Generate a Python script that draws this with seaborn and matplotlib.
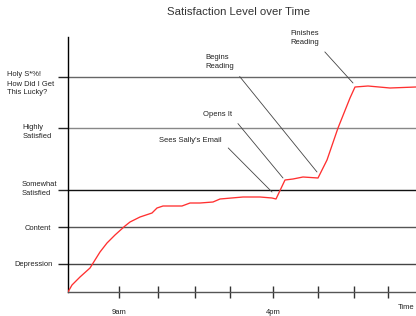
import matplotlib
matplotlib.use('Agg')
import matplotlib.pyplot as plt
import matplotlib.transforms as mtransforms
import seaborn as sns
import pandas as pd

# time (arbitrary units along the axis) and satisfaction score
time_pts = [0, 4, 12, 22, 32, 39, 47, 57, 62, 72, 84, 89, 95, 114, 122, 132, 145, 152,
            175, 192, 204, 208, 217, 225, 235, 250, 259, 270, 282, 287, 300, 322, 348]
satisfaction = [0, 7, 15, 24, 40, 49, 57, 66, 70, 75, 79, 84, 86, 86, 89, 89, 90, 93,
                95, 95, 94, 93, 112, 113, 115, 114, 132, 164, 194, 205, 206, 204, 205]

level_names = ['Depression', 'Content', 'Somewhat\nSatisfied', 'Highly\nSatisfied',
               'Holy S*%!\nHow Did I Get\nThis Lucky?']
level_values = [28, 65, 102, 164, 215]
level_colors = ['#444444', '#555555', '#111111', '#888888', '#666666']

tick_pos = [51, 90, 127, 162, 205, 250, 286, 320]
tick_labels = ['9am', '', '', '', '4pm', '', '', '']

events = ["Sees Sally's Email", 'Opens It', 'Begins\nReading', 'Finishes\nReading']
event_time = [204, 215, 249, 285]
event_level = [100, 114, 120, 209]
event_text_x = [154, 164, 137, 222]
event_text_y = [151, 177, 230, 254]

df = pd.DataFrame({'time': time_pts, 'satisfaction': satisfaction})

sns.set_style('white')
plt.rcParams['font.family'] = ['Liberation Sans', 'DejaVu Sans']

fig = plt.figure(figsize=(4.16, 3.16), dpi=100)
ax = fig.add_axes([68 / 416, 24 / 316, 348 / 416, 255 / 316])

for lv, c in zip(level_values, level_colors):
    ax.axhline(lv, color=c, lw=1, zorder=1)

sns.lineplot(data=df, x='time', y='satisfaction', ax=ax, color='#ff3030', lw=0.95, zorder=3)

ax.set_xlim(0, 348)
ax.set_ylim(0, 255)

ax.set_yticks(level_values)
ax.set_yticklabels(level_names, fontsize=5.4, linespacing=1.4, color='#222222')
ax.tick_params(axis='y', direction='out', length=7.2, width=1, pad=18.5, left=True)
# small nudges of the labels, in pixels (right, down)
nudge_x = [1, 6, 7, 5, -1.5]
nudge_y = [0, 0, -3, 2, 5]
for tk, c, dx, dy in zip(ax.yaxis.get_major_ticks(), level_colors, nudge_x, nudge_y):
    tk.tick1line.set_color(c)
    lab = tk.label1
    lab.set_ha('center')
    lab.set_multialignment('left')
    lab.set_transform(lab.get_transform() +
                      mtransforms.ScaledTranslation(dx / 100, -dy / 100, fig.dpi_scale_trans))

ax.set_xticks(tick_pos)
ax.set_xticklabels(tick_labels, fontsize=5.5, color='#222222')
ax.tick_params(axis='x', direction='inout', length=8, width=1, pad=8,
               bottom=True, color='#333333')

sns.despine(ax=ax, top=True, right=True)
ax.spines['left'].set_color('black')
ax.spines['left'].set_linewidth(1)
ax.spines['bottom'].set_color('#555555')
ax.spines['bottom'].set_linewidth(1)
ax.set_xlabel('')
ax.set_ylabel('')

ax.annotate('Time', xy=(1, 0), xycoords='axes fraction', xytext=(-1, -11),
            textcoords='offset points', ha='right', va='center', fontsize=5.5,
            color='#222222')

rel = [(1, 0.4), (1, 0.3), (1, 0.05), (1, 0.05)]
for name, tx, ty, px, py, rp in zip(events, event_time, event_level,
                                     event_text_x, event_text_y, rel):
    ax.annotate(name, xy=(tx, ty), xytext=(px, py), ha='left' if '\n' in name else 'right',
                va='center', fontsize=5.5, linespacing=1.4, color='#222222',
                annotation_clip=False,
                arrowprops=dict(arrowstyle='-', color='#444444', lw=0.6,
                                relpos=rp, shrinkA=3, shrinkB=0))

fig.suptitle('Satisfaction Level over Time', x=239 / 416, y=1 - 12 / 316, va='center',
             fontsize=8.2, color='#333333')

fig.savefig('out.png', dpi=100)
